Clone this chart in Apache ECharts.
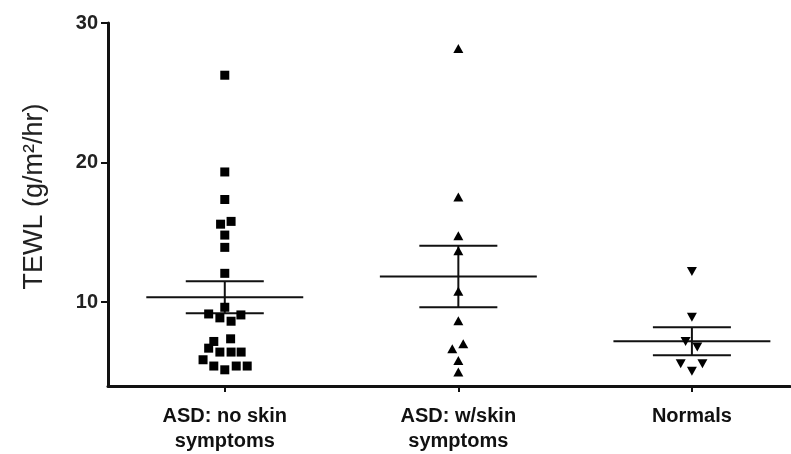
<!DOCTYPE html>
<html>
<head>
<meta charset="utf-8">
<script src="https://cdn.jsdelivr.net/npm/echarts@6/dist/echarts.min.js"></script>
<style>
html, body { margin: 0; padding: 0; background: #fff; }
#chart { width: 791px; height: 454px; }
</style>
</head>
<body>
<div id="chart"></div>
<script>
// groups on the x axis
var categories = ['ASD: no skin\nsymptoms', 'ASD: w/skin\nsymptoms', 'Normals'];
var yTicks = [10, 20, 30];

// TEWL readings, with the small horizontal spread of each point (in category units)
var noSkinValues = [26.26, 19.33, 17.36, 15.79, 15.59, 14.81, 13.93, 12.07, 9.64, 9.16, 8.88, 9.09,
    8.64, 7.38, 7.19, 6.71, 6.43, 6.43, 6.43, 5.88, 5.43, 5.16, 5.43, 5.43];
var noSkinJitter = [0, 0, 0, 0.027, -0.018, 0, 0, 0, 0, -0.069, -0.021, 0.069,
    0.027, 0.025, -0.047, -0.069, -0.021, 0.027, 0.07, -0.093, -0.047, 0, 0.049, 0.096];

var skinValues = [28.17, 17.54, 14.76, 13.69, 10.79, 8.68, 7.02, 6.66, 5.83, 5.0];
var skinJitter = [0, 0, 0, 0, 0, 0, 0.021, -0.026, 0, 0];

var normalValues = [12.21, 8.93, 7.19, 6.79, 5.6, 5.6, 5.05];
var normalJitter = [0, 0, -0.027, 0.023, -0.048, 0.045, 0];

// mean and SEM of each group
var means = [10.36, 11.84, 7.21];
var sems = [1.15, 2.2, 1.0];

function points(group, values, jitter) {
    return values.map(function (v, i) { return [group + jitter[i], v]; });
}

var statData = means.map(function (m, i) { return [i + 1, m, m - sems[i], m + sems[i]]; });

var myChart = echarts.init(document.getElementById('chart'));

var font = 'Liberation Sans, Arial, sans-serif';
var dot = { color: '#000', opacity: 1 };

var option = {
    backgroundColor: '#fff',
    animation: false,
    grid: { left: 108, right: 1, top: 23, bottom: 67 },
    xAxis: {
        type: 'value',
        min: 0.5,
        max: 3.42,
        splitLine: { show: false },
        axisLine: { lineStyle: { color: '#111', width: 3 } },
        axisTick: { customValues: [1, 2, 3], length: 6, lineStyle: { color: '#111', width: 2 } },
        axisLabel: {
            customValues: [1, 2, 3],
            formatter: function (v) { return categories[Math.round(v) - 1]; },
            color: '#111',
            fontFamily: font,
            fontWeight: 'bold',
            fontSize: 20,
            lineHeight: 25,
            margin: 18
        }
    },
    yAxis: {
        type: 'value',
        min: 4,
        max: 30,
        name: 'TEWL (g/m²/hr)',
        nameLocation: 'middle',
        nameRotate: 90,
        nameGap: 60,
        nameTextStyle: {
            color: '#222',
            fontFamily: font,
            fontSize: 27,
            padding: [0, 0, 0, 16]
        },
        splitLine: { show: false },
        axisLine: { lineStyle: { color: '#111', width: 3 } },
        axisTick: { customValues: yTicks, length: 7, lineStyle: { color: '#111', width: 2 } },
        axisLabel: {
            customValues: yTicks,
            color: '#222',
            fontFamily: font,
            fontWeight: 'bold',
            fontSize: 20,
            margin: 10
        }
    },
    series: [
        {
            type: 'scatter',
            symbol: 'rect',
            symbolSize: 9,
            itemStyle: dot,
            data: points(1, noSkinValues, noSkinJitter)
        },
        {
            type: 'scatter',
            symbol: 'triangle',
            symbolSize: [10, 9],
            itemStyle: dot,
            data: points(2, skinValues, skinJitter)
        },
        {
            type: 'scatter',
            symbol: 'triangle',
            symbolRotate: 180,
            symbolSize: [10, 9],
            itemStyle: dot,
            data: points(3, normalValues, normalJitter)
        },
        {
            // mean line with SEM whiskers
            type: 'custom',
            data: statData,
            renderItem: function (params, api) {
                var x = api.value(0);
                var mL = api.coord([x - 0.336, api.value(1)]);
                var mR = api.coord([x + 0.336, api.value(1)]);
                var lo = api.coord([x, api.value(2)]);
                var hi = api.coord([x, api.value(3)]);
                var half = api.size([0.167, 0])[0];
                var style = { stroke: '#111', lineWidth: 2 };
                return {
                    type: 'group',
                    children: [
                        { type: 'line', shape: { x1: mL[0], y1: mL[1], x2: mR[0], y2: mR[1] }, style: style },
                        { type: 'line', shape: { x1: lo[0], y1: lo[1], x2: hi[0], y2: hi[1] }, style: style },
                        { type: 'line', shape: { x1: lo[0] - half, y1: lo[1], x2: lo[0] + half, y2: lo[1] }, style: style },
                        { type: 'line', shape: { x1: hi[0] - half, y1: hi[1], x2: hi[0] + half, y2: hi[1] }, style: style }
                    ]
                };
            }
        }
    ]
};

myChart.setOption(option);
</script>
</body>
</html>
